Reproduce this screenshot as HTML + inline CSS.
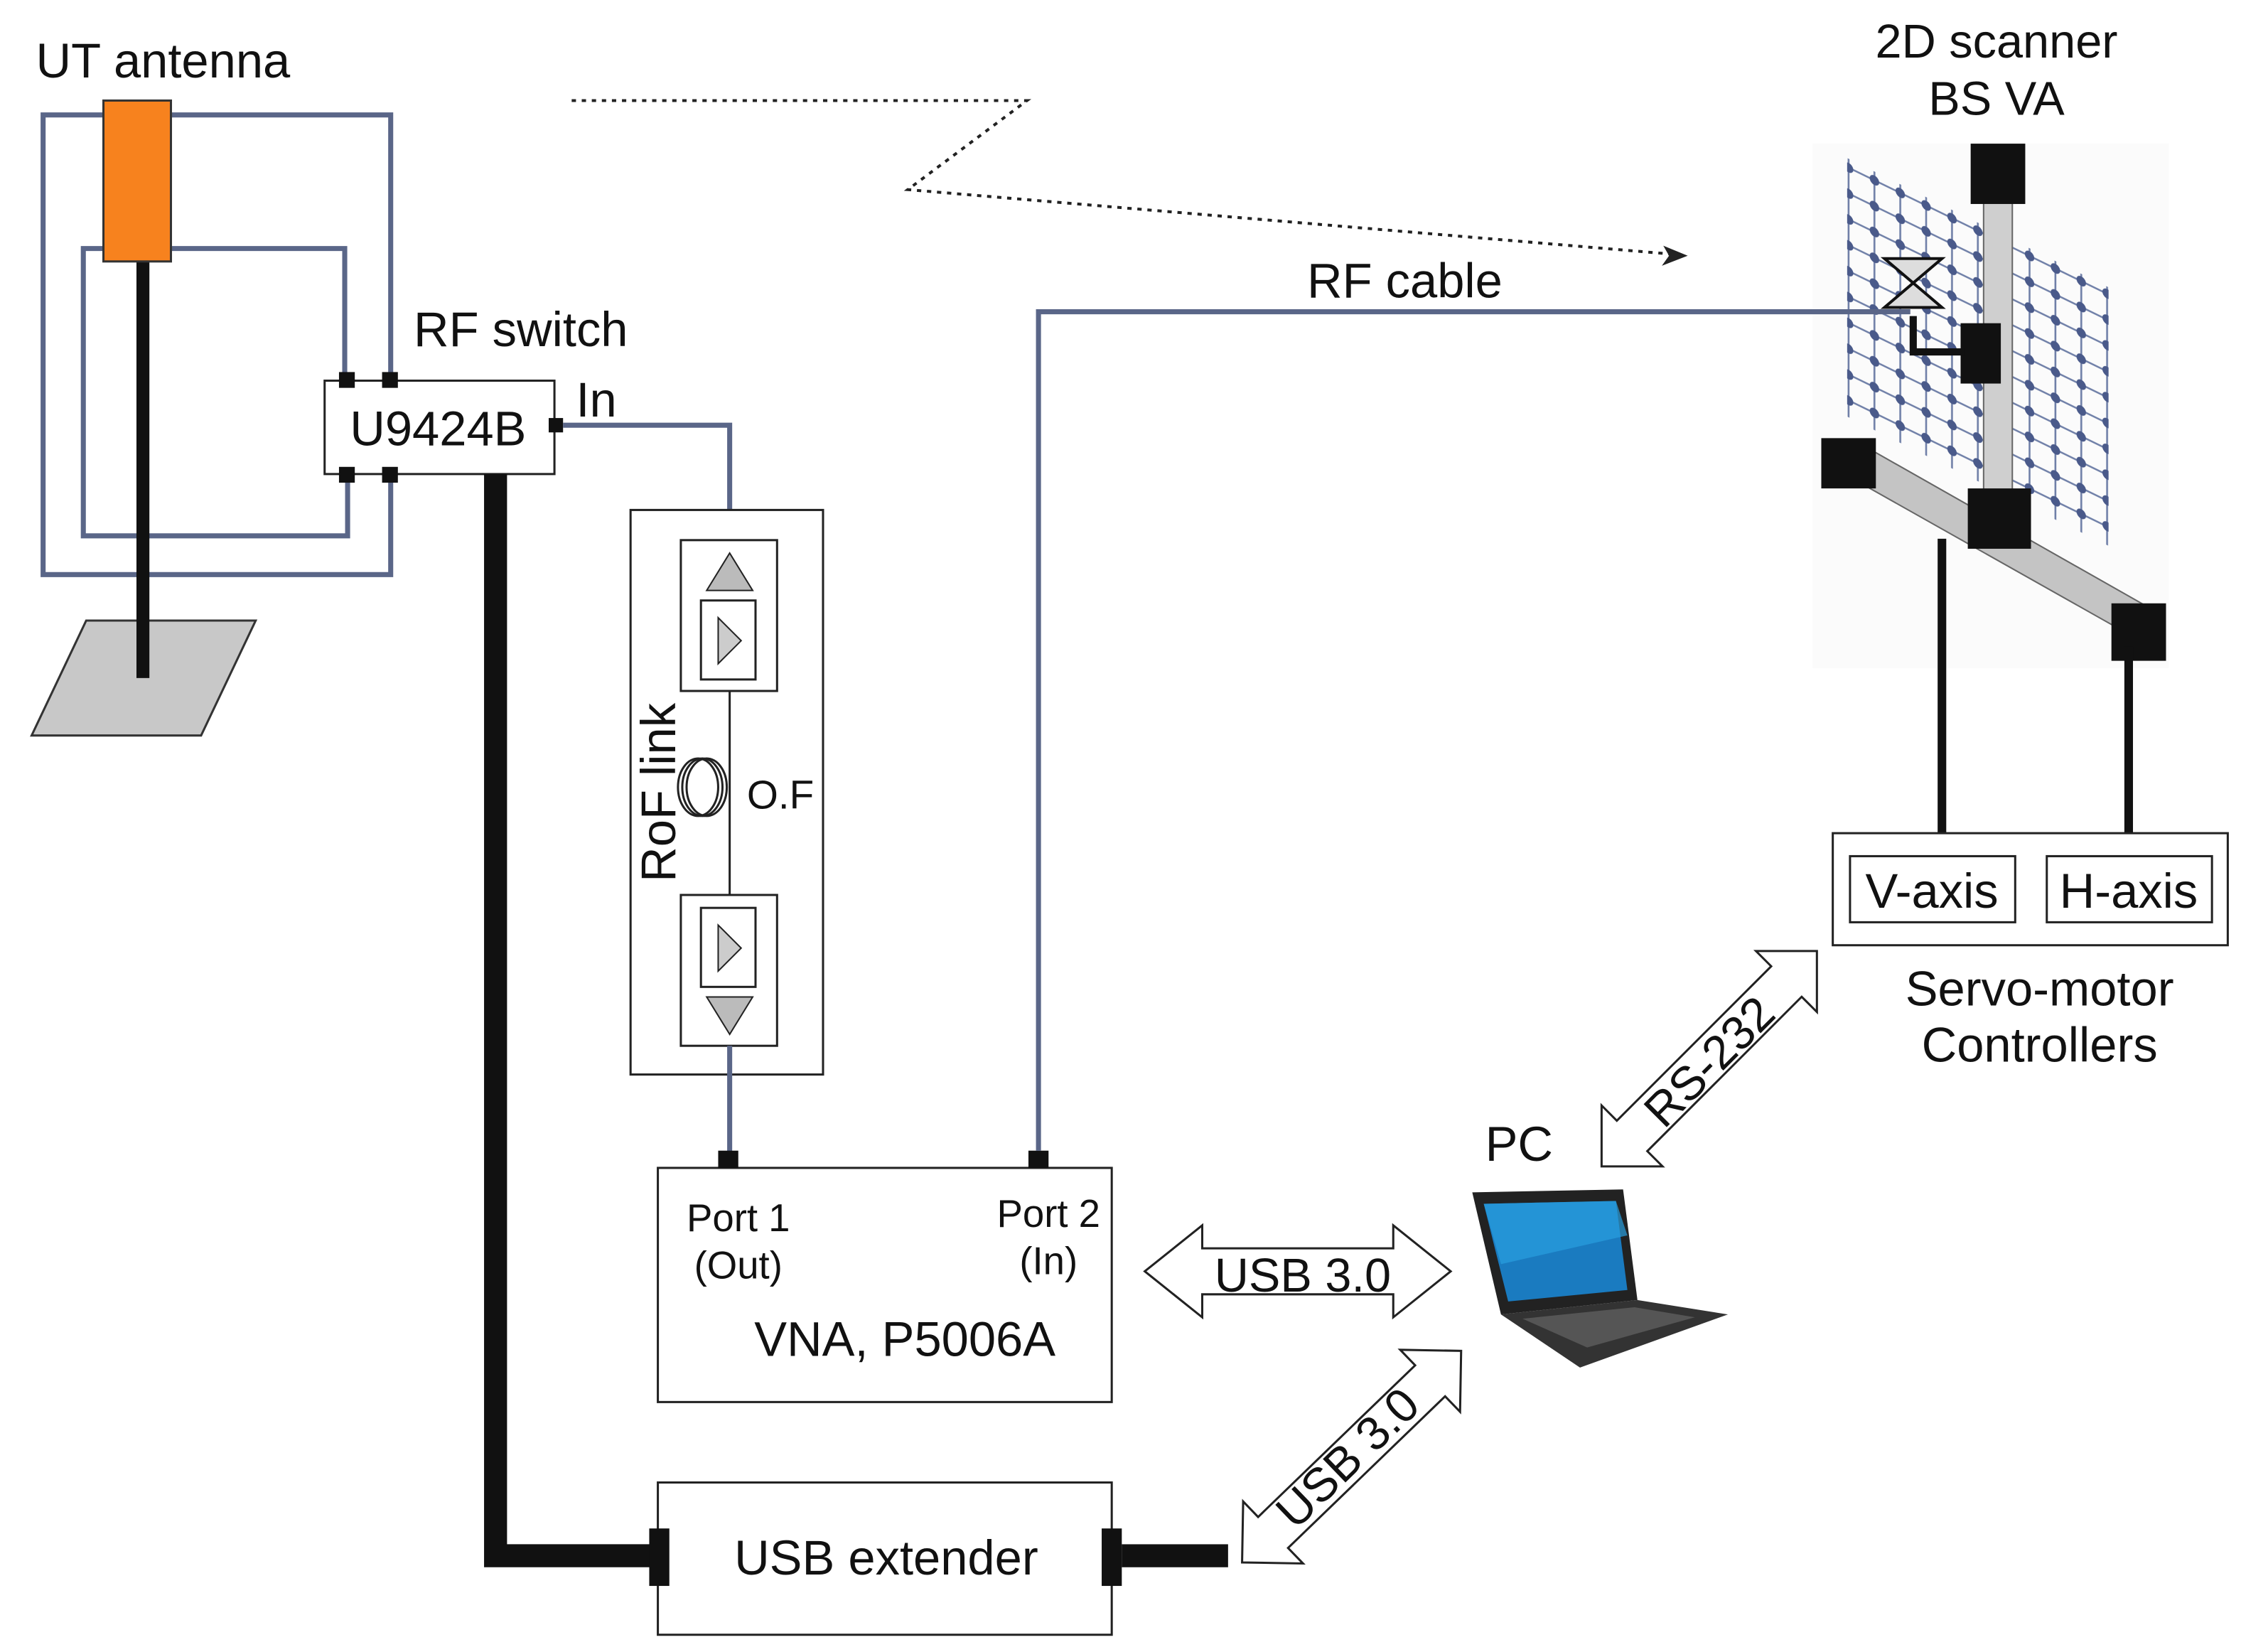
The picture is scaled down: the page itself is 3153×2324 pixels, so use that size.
<!DOCTYPE html>
<html><head><meta charset="utf-8"><style>
html,body{margin:0;padding:0;background:#fff;}
svg{display:block;}
text{font-family:"Liberation Sans",Arial,sans-serif;fill:#111;}
</style></head><body>
<svg width="3153" height="2324" viewBox="0 0 1560.2 1150" xmlns="http://www.w3.org/2000/svg">
<defs>
<pattern id="dots" x="0" y="2" width="18" height="18" patternUnits="userSpaceOnUse" patternTransform="skewY(26)">
<line x1="9" y1="0" x2="9" y2="18" stroke="#7080a8" stroke-width="1.3"/>
<line x1="0" y1="9" x2="18" y2="9" stroke="#7080a8" stroke-width="1.3"/>
<circle cx="9" cy="9" r="3.3" fill="#4a5a8a"/>
</pattern>
</defs>
<rect width="1560.2" height="1150" fill="#fff"/>

<!-- UT antenna -->
<text x="25" y="54" font-size="34">UT antenna</text>
<g fill="none" stroke="#5a6688" stroke-width="3.5">
<path d="M76 80 H30 V400 H272 V330"/>
<path d="M115 80 H272 V265"/>
<path d="M76 173 H58 V373 H242 V330"/>
<path d="M115 173 H240 V265"/>
</g>
<polygon points="60,432 178,432 140,512 22,512" fill="#c8c8c8" stroke="#333" stroke-width="1.5"/>
<rect x="95" y="180" width="9" height="292" fill="#111"/>
<rect x="72" y="70" width="47" height="112" fill="#f7821e" stroke="#333" stroke-width="1.5"/>

<!-- RF switch -->
<text x="288" y="241" font-size="34">RF switch</text>
<rect x="226" y="265" width="160" height="65" fill="#fff" stroke="#222" stroke-width="1.5"/>
<text x="305" y="310" font-size="34" text-anchor="middle">U9424B</text>
<g fill="#111">
<rect x="236" y="259" width="11" height="11"/><rect x="266" y="259" width="11" height="11"/>
<rect x="236" y="325" width="11" height="11"/><rect x="266" y="325" width="11" height="11"/>
<rect x="382" y="291" width="10" height="10"/>
</g>
<text x="401" y="290" font-size="34">In</text>
<path d="M392 296 H508 V385" fill="none" stroke="#5a6688" stroke-width="3.5"/>

<!-- thick black cable -->
<path d="M345 330 V1083 H455" fill="none" stroke="#111" stroke-width="16"/>

<!-- RoF link -->
<rect x="439" y="355" width="134" height="393" fill="#fff" stroke="#222" stroke-width="1.5"/>
<line x1="508" y1="481" x2="508" y2="623" stroke="#222" stroke-width="1.5"/>
<rect x="474" y="376" width="67" height="105" fill="#fff" stroke="#222" stroke-width="1.5"/>
<rect x="474" y="623" width="67" height="105" fill="#fff" stroke="#222" stroke-width="1.5"/>
<polygon points="508,385 492,411 524,411" fill="#bbb" stroke="#222"/>
<rect x="488" y="418" width="38" height="55" fill="#fff" stroke="#222" stroke-width="1.5"/>
<polygon points="500,430 500,462 516,446" fill="#ccc" stroke="#222"/>
<polygon points="508,720 492,694 524,694" fill="#bbb" stroke="#222"/>
<rect x="488" y="632" width="38" height="55" fill="#fff" stroke="#222" stroke-width="1.5"/>
<polygon points="500,644 500,676 516,660" fill="#ccc" stroke="#222"/>
<g fill="none" stroke="#222" stroke-width="1.5">
<ellipse cx="486" cy="548" rx="14" ry="20"/><ellipse cx="489" cy="548" rx="14" ry="20"/><ellipse cx="492" cy="548" rx="14" ry="20"/>
</g>
<text x="520" y="563" font-size="28">O.F</text>
<text transform="translate(470,614) rotate(-90)" font-size="34">RoF link</text>
<path d="M508 728 V805" fill="none" stroke="#5a6688" stroke-width="3.5"/>

<!-- VNA -->
<rect x="458" y="813" width="316" height="163" fill="#fff" stroke="#222" stroke-width="1.5"/>
<rect x="500" y="801" width="14" height="12" fill="#111"/>
<rect x="716" y="801" width="14" height="12" fill="#111"/>
<text x="514" y="857" font-size="27" text-anchor="middle">Port 1</text>
<text x="514" y="890" font-size="27" text-anchor="middle">(Out)</text>
<text x="730" y="854" font-size="27" text-anchor="middle">Port 2</text>
<text x="730" y="887" font-size="27" text-anchor="middle">(In)</text>
<text x="630" y="944" font-size="34" text-anchor="middle">VNA, P5006A</text>

<!-- Scanner -->
<text x="1390" y="40" font-size="33" text-anchor="middle">2D scanner</text>
<text x="1390" y="80" font-size="33" text-anchor="middle">BS VA</text>
<rect x="1262" y="100" width="248" height="365" fill="#fbfbfb"/>
<polygon points="1286,110 1468,200 1468,380 1286,290" fill="url(#dots)"/>
<polygon points="1270,322 1290,306 1505,428 1490,446" fill="#c4c4c4" stroke="#666"/>
<rect x="1381" y="120" width="20" height="240" fill="#cfcfcf" stroke="#666"/>
<rect x="1372" y="100" width="38" height="42" fill="#111"/>
<rect x="1268" y="305" width="38" height="35" fill="#111"/>
<rect x="1470" y="420" width="38" height="40" fill="#111"/>
<rect x="1370" y="340" width="44" height="42" fill="#111"/>
<rect x="1365" y="225" width="28" height="42" fill="#111"/>

<!-- RF cable -->
<path d="M723 801 V217 H1330" fill="none" stroke="#5a6688" stroke-width="3.5"/>
<text x="910" y="207" font-size="34">RF cable</text>
<path d="M1332 220 V245 H1368" fill="none" stroke="#111" stroke-width="5"/>
<polygon points="1312,180 1352,180 1312,214 1352,214" fill="#ddd" stroke="#111" stroke-width="2"/>
<line x1="1352" y1="375" x2="1352" y2="580" stroke="#111" stroke-width="6"/>
<line x1="1482" y1="450" x2="1482" y2="580" stroke="#111" stroke-width="6"/>

<!-- dotted wireless -->
<path d="M398 70 H715 L632 132 L1165 177" fill="none" stroke="#222" stroke-width="2" stroke-dasharray="3,4"/>
<polygon points="1175,178 1158,171 1162,178 1157,185" fill="#222"/>

<!-- USB extender -->
<rect x="458" y="1032" width="316" height="106" fill="#fff" stroke="#222" stroke-width="1.5"/>
<rect x="452" y="1064" width="14" height="40" fill="#111"/>
<rect x="767" y="1064" width="14" height="40" fill="#111"/>
<rect x="781" y="1075" width="74" height="16" fill="#111"/>
<text x="617" y="1096" font-size="34" text-anchor="middle">USB extender</text>

<!-- double arrows -->
<g fill="#fff" stroke="#222" stroke-width="1.5">
<polygon points="797,885 837,853 837,869 970,869 970,853 1010,885 970,917 970,901 837,901 837,917"/>
<polygon transform="translate(941,1014) rotate(-44)" points="-106,0 -76,-30 -76,-15 76,-15 76,-30 106,0 76,30 76,15 -76,15 -76,30"/>
<polygon transform="translate(1190,737) rotate(-45)" points="-106,0 -76,-30 -76,-15 76,-15 76,-30 106,0 76,30 76,15 -76,15 -76,30"/>
</g>
<text x="907" y="899" font-size="33" text-anchor="middle">USB 3.0</text>
<text transform="translate(946,1023) rotate(-44)" font-size="33" text-anchor="middle">USB 3.0</text>
<text transform="translate(1198,747) rotate(-45)" font-size="33" text-anchor="middle">RS-232</text>

<!-- PC -->
<text x="1034" y="808" font-size="34">PC</text>
<polygon points="1025,830 1130,828 1140,905 1045,915" fill="#222"/>
<polygon points="1033,838 1125,836 1133,898 1050,906" fill="#1a7bc0"/>
<polygon points="1033,838 1125,836 1133,860 1045,880" fill="#29a0e0" opacity="0.7"/>
<polygon points="1045,915 1140,905 1203,915 1100,952" fill="#333"/>
<polygon points="1060,918 1138,910 1180,917 1105,938" fill="#555"/>

<!-- Servo -->
<rect x="1276" y="580" width="275" height="78" fill="#fff" stroke="#222" stroke-width="1.5"/>
<rect x="1288" y="596" width="115" height="46" fill="#fff" stroke="#222" stroke-width="1.5"/>
<rect x="1425" y="596" width="115" height="46" fill="#fff" stroke="#222" stroke-width="1.5"/>
<text x="1345" y="632" font-size="34" text-anchor="middle">V-axis</text>
<text x="1482" y="632" font-size="34" text-anchor="middle">H-axis</text>
<text x="1420" y="700" font-size="34" text-anchor="middle">Servo-motor</text>
<text x="1420" y="739" font-size="34" text-anchor="middle">Controllers</text>
</svg>
</body></html>
